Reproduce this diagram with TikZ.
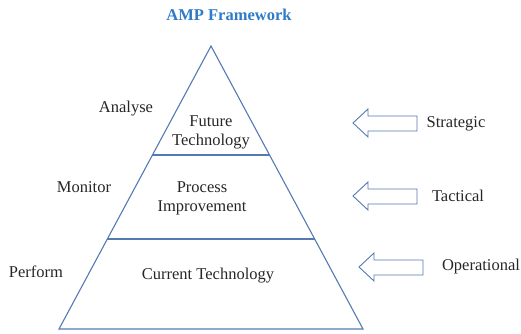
\documentclass[tikz,border=0pt]{standalone}
\usepackage{fontspec}
\setmainfont{Liberation Serif}
\usetikzlibrary{calc}
\definecolor{edgeblue}{HTML}{5479B3}
\definecolor{titleblue}{HTML}{2E7BC8}
\tikzset{
  lbl/.style={font=\fontsize{16.5}{19}\selectfont, inner sep=0pt, align=center, text=black!85},
  heading/.style={lbl, font=\fontsize{16.5}{19}\selectfont\bfseries, text=titleblue},
  edge/.style={draw=edgeblue, line width=1.1pt, line join=miter},
  pics/leftarrow/.style={code={
    \draw[edgeblue, line width=0.9pt, fill=white]
      (0,0) -- (15,-14) -- (15,-7) -- (64,-7) -- (64,8) -- (15,8) -- (15,14) -- cycle;
  }}
}
\begin{document}
\begin{tikzpicture}[x=1pt, y=-1pt]
  \useasboundingbox (0,0) rectangle (521,333);

  % pyramid outline
  \coordinate (apex) at (211,46);
  \coordinate (bl) at (59,329);
  \coordinate (br) at (363,329);
  \draw[edge] (apex) -- (bl) -- (br) -- cycle;

  % tier dividers
  \coordinate (d1l) at ($(apex)!0.385!(bl)$);
  \coordinate (d1r) at ($(apex)!0.385!(br)$);
  \coordinate (d2l) at ($(apex)!0.682!(bl)$);
  \coordinate (d2r) at ($(apex)!0.682!(br)$);
  \draw[edge] (d1l) -- (d1r);
  \draw[edge] (d2l) -- (d2r);

  % title
  \node[heading] (title) at (229,15) {AMP Framework};

  % tier contents
  \node[lbl] (future) at (211,132) {Future\\Technology};
  \node[lbl] (process) at (202,198.5) {Process\\Improvement};
  \node[lbl] (current) at (208,276) {Current Technology};

  % activities on the left
  \node[lbl] (analyse) at (126,109) {Analyse};
  \node[lbl] (monitor) at (84,187) {Monitor};
  \node[lbl] (perform) at (36,272) {Perform};

  % levels on the right
  \pic at (353,123) {leftarrow};
  \pic at (353,196) {leftarrow};
  \pic at (359,267) {leftarrow};
  \node[lbl] (strategic) at (456,124) {Strategic};
  \node[lbl] (tactical) at (458,196) {Tactical};
  \node[lbl] (operational) at (481,267) {Operational};
\end{tikzpicture}
\end{document}
